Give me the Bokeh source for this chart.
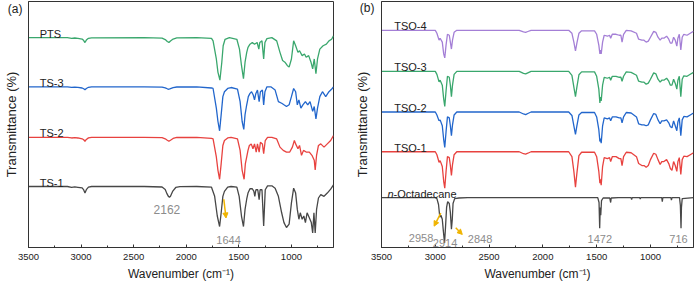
from bokeh.plotting import figure
from bokeh.models import Range1d, Label, Arrow, NormalHead, FixedTicker
from bokeh.layouts import row
from bokeh.embed import file_html
from bokeh.resources import INLINE

FONT = "Liberation Sans"

# ---------------- panel (a): (wavenumber, transmittance) ----------------
PTS = [(3500,100),(3130,100),(3090,99.3),(3060,99.6),(3030,99.3),(2990,98.5),(2975,97),(2963,95),(2950,97.5),(2930,99.3),(2900,99.8),(2400,100),(2230,99.5),(2200,98),(2180,96),(2165,95),(2150,96.5),(2125,98.5),(2090,99.7),(1900,100),(1760,99.3),(1745,96.7),(1714,78.3),(1699,65),(1680,56.7),(1662,75),(1649,91.7),(1631,98.3),(1590,100),(1519,98.3),(1494,88.3),(1475,71.7),(1456,58.3),(1441,75),(1425,85),(1413,90),(1394,93.3),(1372,95),(1351,93.3),(1326,95),(1310,88.3),(1301,95),(1280,96.7),(1264,78.3),(1252,95),(1233,99),(1186,100),(1140,96.7),(1109,85),(1084,76.7),(1062,75),(1040,71.7),(1022,70),(1000,78.3),(979,96.7),(960,91.7),(938,85),(923,86.7),(898,81.7),(876,83.3),(860,80),(836,81.7),(814,75),(798,68.3),(783,78.3),(767,63.3),(752,78.3),(730,88.3),(699,91.7),(668,93.3),(643,96.7),(618,98.3),(600,101.7)]

TS3 = [(3500,100),(3130,100),(3090,99.4),(3060,99.7),(3030,99.4),(2990,98.8),(2975,98),(2963,97),(2950,98.3),(2930,99.5),(2900,100),(2400,100),(2230,99.7),(2200,99),(2180,98),(2165,97.5),(2150,98.2),(2125,99.2),(2090,99.8),(1900,100),(1760,98.8),(1745,98.3),(1714,78.3),(1699,65),(1683,55.3),(1668,71.7),(1652,90),(1637,95),(1606,98.3),(1574,99.3),(1513,97.7),(1488,85),(1469,65),(1453,56.7),(1441,71.7),(1428,80),(1419,85),(1410,90),(1394,93.3),(1379,95),(1363,91.7),(1351,86.7),(1338,93.3),(1323,96.7),(1307,85),(1295,95),(1276,96.7),(1264,81.7),(1252,95),(1233,100),(1196,100),(1155,96.7),(1124,85),(1093,83.3),(1071,81.7),(1047,80),(1022,81.7),(1000,90),(979,98.3),(960,95),(944,81.7),(929,86.7),(910,78.3),(891,81.7),(867,85),(845,81.7),(823,85),(798,75),(783,80),(767,67.3),(752,78.3),(730,90),(705,95),(674,90),(643,95),(612,98.3),(600,100)]

TS2 = [(3500,100),(3130,100),(3090,99.3),(3060,99.7),(3030,99.3),(2990,98.5),(2975,97.5),(2963,96),(2950,97.8),(2930,99.4),(2900,100),(2400,100),(2230,99.6),(2200,98.5),(2180,97),(2165,96),(2150,97),(2125,98.8),(2090,99.8),(1900,100),(1760,98.8),(1745,98.3),(1714,80),(1699,66.7),(1683,57.3),(1668,73.3),(1652,91.7),(1637,96.7),(1606,99.3),(1574,100),(1513,98.3),(1488,86.7),(1469,66.7),(1450,57.3),(1438,73.3),(1425,80),(1413,86.7),(1400,91.7),(1382,93.3),(1366,88.3),(1351,93.3),(1335,85),(1323,93.3),(1307,85),(1295,95),(1276,93.3),(1264,83.3),(1249,96.7),(1227,100),(1186,100),(1140,98.3),(1109,90),(1078,86.7),(1047,85),(1016,85),(991,90),(972,96.7),(960,93.3),(938,88.3),(923,91.7),(904,81.7),(885,86.7),(860,85),(830,85),(805,81.7),(783,76.7),(774,66.7),(761,81.7),(743,91.7),(721,93.3),(690,90),(659,93.3),(627,96.7),(600,101.7)]

TS1 = [(3500,100),(3130,100),(3090,99.2),(3060,99.6),(3030,99.2),(2990,98.5),(2975,96.5),(2963,93.5),(2950,96.8),(2930,99.3),(2900,100),(2400,100),(2230,99.5),(2200,97),(2185,93),(2170,90),(2160,89),(2150,90),(2130,95),(2100,99),(2060,99.8),(1900,100),(1760,99.3),(1730,90),(1705,70),(1683,59.3),(1668,73.3),(1652,90),(1637,95),(1606,99.3),(1574,100),(1519,99.3),(1497,90),(1475,70),(1456,59.3),(1441,76.7),(1425,87.3),(1413,93.3),(1394,97.7),(1372,97.7),(1357,95),(1348,90),(1338,96.7),(1320,96.7),(1307,86.7),(1298,96.7),(1280,96.7),(1264,60),(1249,96.7),(1227,100.7),(1186,100.7),(1155,98.3),(1124,90),(1093,73.3),(1071,63.3),(1047,58.3),(1022,61.7),(1000,83.3),(979,98.3),(960,93.3),(944,76.7),(929,66.7),(916,73.3),(898,66.7),(882,70),(867,63.3),(851,73.3),(830,68.3),(811,63.3),(798,52.7),(786,73.3),(774,52.7),(761,76.7),(743,88.3),(721,91.7),(690,90),(659,93.3),(627,97.3),(600,101.7)]

# ---------------- panel (b) ----------------
TSO4 = [(3500,100),(3000,100),(2985,97),(2965,90),(2955,92),(2935,88),(2922,76),(2912,72),(2900,85),(2887,96),(2870,95),(2860,88),(2850,81),(2840,90),(2825,98),(2800,100),(2220,100),(2180,98.5),(2160,98),(2140,98.8),(2110,100),(1760,100),(1730,97),(1712,88),(1697,79),(1684,87),(1665,97),(1640,99.5),(1520,99.5),(1500,96),(1480,85),(1470,76),(1465,80),(1458,76),(1445,88),(1430,95),(1400,94),(1380,95),(1370,92),(1355,96),(1320,96),(1290,95),(1275,95),(1264,88),(1250,96),(1225,100),(1180,99.5),(1130,97),(1110,91),(1080,90),(1060,90),(1040,88),(1020,89),(1000,93),(970,99),(950,98),(930,93),(910,90),(895,92),(875,92),(850,94),(830,91),(815,87),(800,87),(785,93),(770,90),(755,84),(745,92),(732,96),(718,80),(705,93),(690,96),(660,95),(630,97),(600,99)]

TSO3 = [(3500,100),(3000,100),(2985,97),(2965,89.3),(2955,91),(2935,86),(2922,72),(2912,64.3),(2900,80),(2887,95),(2870,94),(2860,86),(2850,74.3),(2840,86),(2825,97),(2800,100),(2220,100),(2180,98),(2160,97.5),(2140,98.5),(2110,100),(1760,100),(1730,96),(1712,84),(1697,74.3),(1684,84),(1665,96.5),(1640,99.5),(1520,99.5),(1500,95),(1480,82),(1470,68),(1465,74),(1458,70),(1445,86),(1430,94),(1400,93),(1380,94),(1370,91),(1355,95),(1320,95),(1290,94),(1275,94),(1264,90),(1250,95),(1225,99.5),(1180,99),(1130,96),(1110,90),(1080,89),(1060,89),(1040,87),(1020,88),(1000,92),(970,98.5),(950,97.5),(930,92),(910,89),(895,91),(875,91),(850,93),(830,90),(815,86),(800,86),(785,92),(770,88),(755,82),(745,91),(732,95),(718,74.3),(705,92),(690,95.5),(660,95),(630,97),(600,99)]

TSO2 = [(3500,100),(3000,100),(2985,97),(2965,91),(2955,92),(2935,86),(2922,72),(2912,64),(2900,80),(2887,95),(2870,94),(2860,86),(2850,76),(2840,87),(2825,97),(2800,100),(2220,100),(2180,98),(2160,97.3),(2140,98.5),(2110,100),(1760,100),(1730,96.5),(1712,86),(1697,77.3),(1684,86),(1665,97),(1640,99.5),(1520,99.5),(1500,95),(1480,82),(1470,70),(1465,73),(1458,68.3),(1445,86),(1430,94),(1400,93),(1380,94),(1370,91),(1355,95),(1320,95),(1290,94),(1275,94),(1264,89),(1250,95),(1225,99.5),(1180,99),(1130,95),(1110,88),(1080,87),(1060,87),(1040,86),(1020,87),(1000,92),(970,98.5),(950,97.5),(930,92),(910,88),(895,91),(875,91),(850,92),(830,89),(815,85),(800,84),(785,91),(770,86),(755,81),(745,90),(732,94),(718,76),(705,92),(690,95.5),(660,95),(630,97),(600,99)]

TSO1 = [(3500,100),(3000,100),(2985,97),(2965,89.3),(2955,91),(2935,85),(2922,70),(2912,63),(2900,80),(2887,95),(2870,94),(2860,86),(2850,76),(2840,87),(2825,97),(2800,100),(2220,100),(2180,98),(2160,97.7),(2140,98.5),(2110,100),(1760,100),(1730,95),(1712,80),(1697,64),(1684,78),(1665,96),(1640,99.5),(1520,99.5),(1500,95),(1480,80),(1470,68),(1465,72),(1458,66),(1445,85),(1430,94),(1400,93),(1380,94),(1370,90),(1355,95),(1320,95),(1290,93),(1275,93),(1264,86),(1250,95),(1225,99.5),(1180,99),(1130,95),(1110,88),(1080,86),(1060,86),(1040,84.3),(1020,86),(1000,92),(970,98.5),(950,97.5),(930,92),(910,87),(895,90),(875,90),(850,92),(830,88),(815,83),(800,81),(785,90),(770,86),(755,80),(745,90),(732,94),(718,77),(705,92),(690,95.5),(660,95),(630,97),(600,99)]

OCTA = [(3500,100),(3000,100),(2985,99),(2970,93),(2958,80),(2948,82),(2935,78),(2925,66),(2914,54),(2905,70),(2895,90),(2885,96),(2870,94),(2860,85),(2850,68),(2842,78),(2835,94),(2820,99),(2780,99.6),(2700,100),(1490,100),(1478,95),(1472,69),(1467,90),(1462,82),(1455,97),(1440,99.6),(1378,99.6),(1370,95),(1365,99.6),(1300,100),(1180,100),(1175,98),(1170,100),(1100,100),(1095,98.5),(1090,100),(895,100),(890,96),(885,100),(810,100),(805,97.5),(800,100),(730,100),(722,92),(716,69),(712,90),(705,99),(600,100)]

XTICKS = [3500, 3000, 2500, 2000, 1500, 1000]
XMINOR = [3250, 2750, 2250, 1750, 1250, 750]

GREEN, BLUE, RED, DARK, PURPLE = "#3aa76d", "#2266cc", "#e8423f", "#474747", "#a47fd6"
GOLD, GREYTXT = "#f0b400", "#8c8c8c"


def make_fig(width, left, right, yr, tag, tag_y, tag_standoff, label_standoff):
    p = figure(width=width, height=283, x_range=Range1d(3500, 600), y_range=Range1d(*yr),
               output_backend="svg", toolbar_location=None,
               min_border_left=left, min_border_right=right, min_border_top=1, min_border_bottom=33)
    p.xgrid.visible = False
    p.ygrid.visible = False
    p.outline_line_color = "#333333"
    p.outline_line_width = 1
    p.background_fill_color = "white"
    p.border_fill_color = "white"
    ax = p.xaxis[0]
    ax.ticker = FixedTicker(ticks=XTICKS, minor_ticks=XMINOR)
    ax.axis_line_color = "#333333"
    ax.major_tick_in = 3
    ax.major_tick_out = 0
    ax.minor_tick_in = 2
    ax.minor_tick_out = 0
    ax.major_tick_line_color = "#333333"
    ax.minor_tick_line_color = "#333333"
    ax.major_label_text_font = FONT
    ax.major_label_text_font_size = "9.5px"
    ax.major_label_text_color = "#222222"
    ax.major_label_standoff = 6
    ax.axis_label = "Wavenumber (cm\u207b\u00b9)"
    ax.axis_label_text_font = FONT
    ax.axis_label_text_font_size = "12px"
    ax.axis_label_text_font_style = "normal"
    ax.axis_label_text_color = "#222222"
    ax.axis_label_standoff = 4
    ay = p.yaxis[0]
    ay.ticker = FixedTicker(ticks=[tag_y])
    ay.major_label_overrides = {tag_y: tag}
    ay.major_label_text_font = FONT
    ay.major_label_text_font_size = "12px"
    ay.major_label_text_color = "#222222"
    ay.major_label_standoff = tag_standoff
    ay.major_tick_in = 0
    ay.major_tick_out = 0
    ay.axis_line_color = "#333333"
    ay.major_tick_line_color = None
    ay.minor_tick_line_color = None
    ay.axis_label = "Transmittance (%)"
    ay.axis_label_text_font = FONT
    ay.axis_label_text_font_size = "13px"
    ay.axis_label_text_font_style = "normal"
    ay.axis_label_text_color = "#222222"
    ay.axis_label_standoff = label_standoff
    return p


def trace(p, data, offset, color):
    p.line([w for w, _ in data], [t + offset for _, t in data], line_color=color, line_width=1.3)


def txt(p, x, y, s, color="#222222", size="11px", align="left", style="normal", baseline="alphabetic"):
    p.add_layout(Label(x=x, y=y, text=s, text_font=FONT, text_font_size=size, text_color=color,
                       text_align=align, text_baseline=baseline, text_font_style=style))


def arrow(p, x0, y0, x1, y1):
    p.add_layout(Arrow(end=NormalHead(size=5, fill_color=GOLD, line_color=GOLD),
                       x_start=x0, y_start=y0, x_end=x1, y_end=y1, line_color=GOLD, line_width=1.5))


# ---- panel (a)
pa = make_fig(344, 22, 11, (38, 288), "(a)", 283, 6, -14)
offs_a = [(PTS, 151.3, GREEN, "PTS"), (TS3, 101.3, BLUE, "TS-3"), (TS2, 50, RED, "TS-2"), (TS1, 0, DARK, "TS-1")]
for data, off, col, name in offs_a:
    trace(pa, data, off, col)
    txt(pa, 3393, 100 + off + 4, name)
txt(pa, 2184, 77, "2162", color=GREYTXT, size="12px", align="center")
txt(pa, 1598, 46, "1644", color=GREYTXT, size="11px", align="center")
arrow(pa, 1643, 87, 1622, 68)

# ---- panel (b)
pb = make_fig(350, 37, 1, (49.3, 299.3), "(b)", 294, 7, -13)
offs_b = [(TSO4, 170, PURPLE, "TSO-4"), (TSO3, 128.3, GREEN, "TSO-3"), (TSO2, 87, BLUE, "TSO-2"), (TSO1, 46.6, RED, "TSO-1")]
for data, off, col, name in offs_b:
    trace(pb, data, off, col)
    txt(pb, 3382, 100 + off + 4, name)
trace(pb, OCTA, 0, DARK)
txt(pb, 3444, 104, "n", style="italic")
txt(pb, 3388, 104, "-Octadecane")
txt(pb, 3132, 59, "2958", color=GREYTXT, align="center")
txt(pb, 2909, 53.5, "2914", color=GREYTXT, align="center")
txt(pb, 2584, 58, "2848", color=GREYTXT, align="center")
txt(pb, 1471, 58, "1472", color=GREYTXT, align="center")
txt(pb, 739, 58, "716", color=GREYTXT, align="center")
arrow(pb, 2949, 84.3, 3011, 71)
arrow(pb, 2810, 69.3, 2749, 62.6)

layout = row(pa, pb)
open("out.html", "w").write(file_html(layout, INLINE))
